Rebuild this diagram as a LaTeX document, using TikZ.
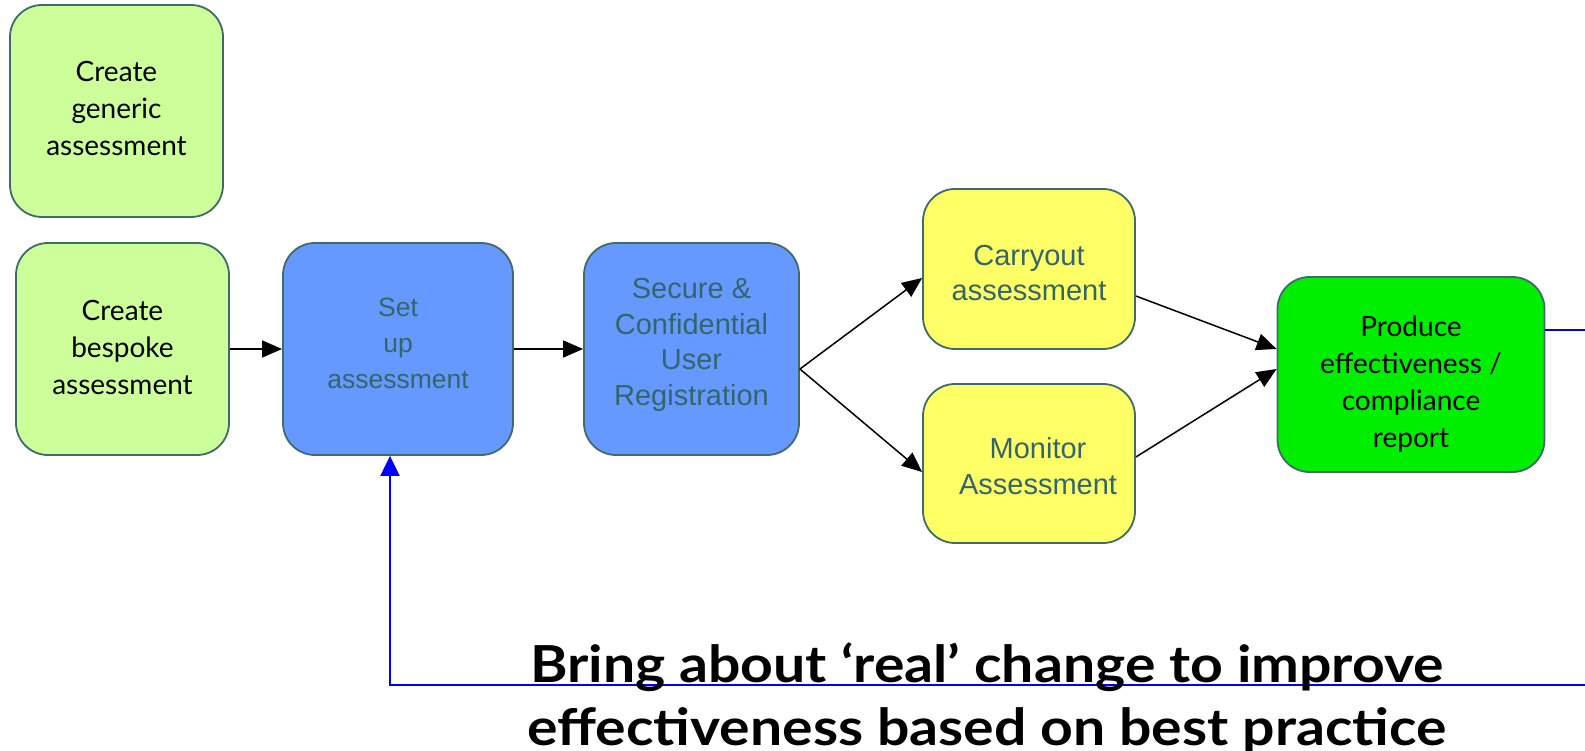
\documentclass[tikz,border=0pt]{standalone}
\usepackage{fontspec}
\setmainfont{Lato}
\newfontfamily\arialf{Liberation Sans}
\newfontfamily\msgfont[FakeStretch=1.12]{Lato}
\usetikzlibrary{arrows.meta,calc}
\definecolor{lgreen}{HTML}{CCFF99}
\definecolor{bblue}{HTML}{6699FF}
\definecolor{yel}{HTML}{FFFF66}
\definecolor{bgreen}{HTML}{00EE00}
\definecolor{edgec}{HTML}{3F6B6B}
\definecolor{slate}{HTML}{33666A}
\definecolor{fbc}{HTML}{0000FF}
\begin{document}
\begin{tikzpicture}[x=1pt,y=-1pt,
  box/.style={draw=edgec, line width=1.8pt, rounded corners=32pt, inner sep=0pt, rectangle},
  gtext/.style={align=center, font=\fontsize{28}{37}\selectfont, text=black, inner sep=0pt},
  atext/.style={align=center, font=\arialf\fontsize{29}{35.5}\selectfont, text=slate, inner sep=0pt},
  stext/.style={align=center, font=\arialf\fontsize{26.5}{36}\selectfont, text=slate, inner sep=0pt},
  arr/.style={draw=black, line width=1.5pt, -{Triangle[length=20pt,width=17pt]}},
  farr/.style={draw=fbc, line width=2pt, -{Triangle[length=20pt,width=19pt]}}]
\fill[white] (0,0) rectangle (1585,751);
\useasboundingbox (0,0) rectangle (1585,751);

\node[box, fill=lgreen, minimum width=213pt, minimum height=212pt] (gen) at (116.5,111) {};
\node[box, fill=lgreen, minimum width=213pt, minimum height=212pt] (besp) at (122.5,349) {};
\node[box, fill=bblue, minimum width=230pt, minimum height=212pt] (setup) at (398,349) {};
\node[box, fill=bblue, minimum width=215pt, minimum height=212pt] (secure) at (691.5,349) {};
\node[box, fill=yel, minimum width=212pt, minimum height=160pt] (carry) at (1029,269) {};
\node[box, fill=yel, minimum width=212pt, minimum height=159pt] (monitor) at (1029,463.5) {};
\node[box, fill=bgreen, minimum width=267pt, minimum height=195pt] (produce) at (1411,374.5) {};

\node[gtext] (gent) at ($(gen.center)+(0,-3)$) {Create\\generic\\assessment};
\node[gtext] (bespt) at ($(besp.center)+(0,-2)$) {Create\\bespoke\\assessment};
\node[stext] (setupt) at ($(setup.center)+(0,-6)$) {Set\\up\\assessment};
\node[atext] (securet) at ($(secure.center)+(0,-4)$) {Secure \&\\Confidential\\User\\Registration};
\node[atext] (carryt) at ($(carry.center)+(0,4)$) {Carryout\\assessment};
\node[atext] (monitort) at ($(monitor.center)+(9,2.5)$) {Monitor\\Assessment};
\node[gtext] (producet) at ($(produce.center)+(0,9.5)$) {Produce\\effectiveness /\\compliance\\report};

\draw[arr] (besp.east) -- (setup.west);
\draw[arr] (setup.east) -- (secure.west);
\coordinate (fork) at ([yshift=-20pt]secure.east);
\draw[arr] (fork) -- ([yshift=-9pt]carry.west);
\draw[arr] (fork) -- ([yshift=-8.5pt]monitor.west);
\draw[arr] ([yshift=-27pt]carry.east) -- ([yshift=25.5pt]produce.west);
\draw[arr] ([yshift=6.5pt]monitor.east) -- ([yshift=5.5pt]produce.west);

\coordinate (fbstart) at ([yshift=44.5pt]produce.east);
\coordinate (fbr) at (1595,330);
\coordinate (fbrb) at (1595,685);
\coordinate (fbl) at (390,685);
\draw[farr] (fbstart) -- (fbr) -- (fbrb) -- (fbl) -- (fbl |- setup.south);

\node[font=\msgfont\bfseries\fontsize{51}{63}\selectfont, align=center, inner sep=0pt] (msg) at (987,698) {Bring about ‘real’ change to improve\\effectiveness based on best practice};
\end{tikzpicture}
\end{document}
